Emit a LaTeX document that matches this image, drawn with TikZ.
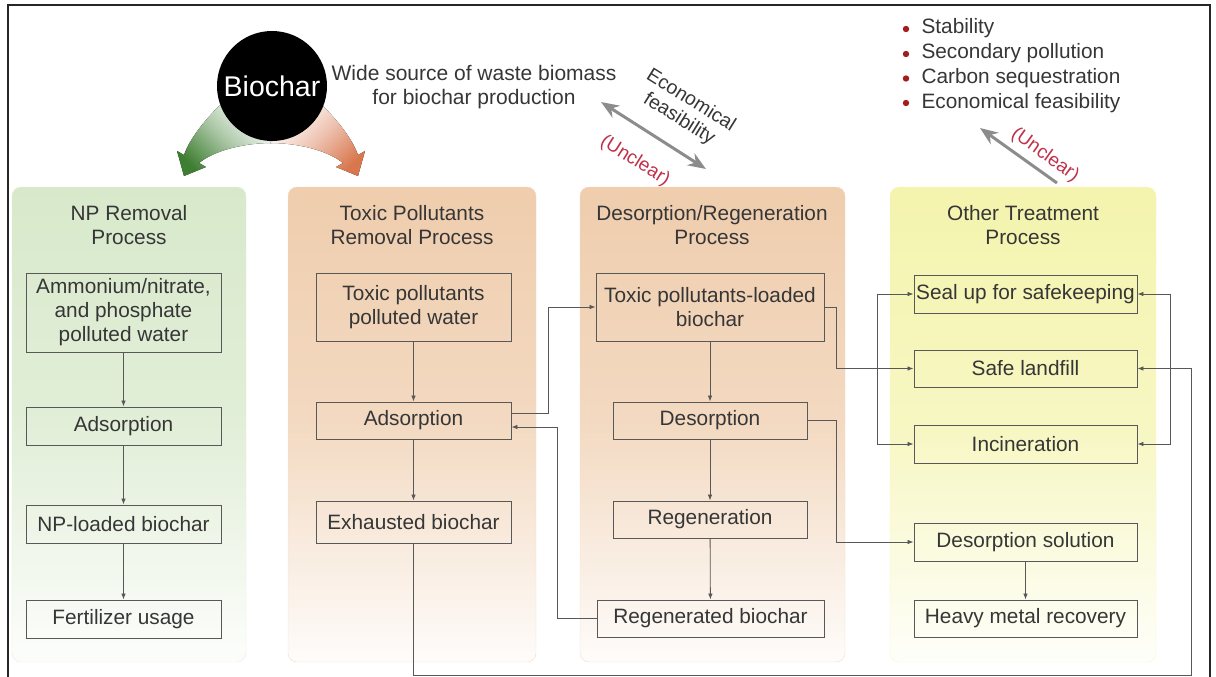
\documentclass[tikz,border=0pt]{standalone}
\usepackage{fontspec}
\setmainfont{Liberation Sans}
\usetikzlibrary{arrows.meta}
\definecolor{txt}{HTML}{363636}
\definecolor{edge}{HTML}{585858}
\definecolor{npgreen}{HTML}{D8E9CB}
\definecolor{tan}{HTML}{EFCDAD}
\definecolor{lemon}{HTML}{F4F4AE}
\definecolor{unclear}{HTML}{C0304A}
\definecolor{bulletred}{HTML}{A51C1C}
\definecolor{arrgray}{HTML}{8C8C8C}
\definecolor{leafdark}{HTML}{3E7E32}
\definecolor{rustdark}{HTML}{D8774E}
\begin{document}
\begin{tikzpicture}[x=1pt,y=-1pt,
  every node/.style={text=txt, font=\fontsize{20.8}{24}\selectfont},
  panel/.style={rounded corners=9pt, draw=#1!70!white, line width=0.4pt,
    top color=#1, bottom color=#1!6!white, middle color=#1!75!white},
  title/.style={align=center},
  pbox/.style={draw=edge, line width=0.85pt, inner sep=0pt, align=center},
  flow/.style={draw=edge, line width=0.8pt, -{Latex[length=6pt,width=4.5pt]}},
  bigarrow/.style={draw=arrgray, line width=3pt},
  tag/.style={text=unclear, font=\fontsize{19}{22}\selectfont},
  item/.style={anchor=west, text height=14pt, text depth=4pt}
]
\useasboundingbox (0,0) rectangle (1216,677);

% outer frame
\draw[line width=1.5pt, black!85] (8,700) -- (8,5) -- (1210,5) -- (1210,700);

% process panels
\path[panel=npgreen] (12,187) rectangle (246,662);
\path[panel=tan] (288,187) rectangle (536,662);
\path[panel=tan] (580,187) rectangle (845,662);
\path[panel=lemon] (890,187) rectangle (1156,662);

% panel titles
\node[title] (t1) at (129,225) {NP Removal\\Process};
\node[title] (t2) at (412,225) {Toxic Pollutants\\Removal Process};
\node[title] (t3) at (712,225) {Desorption/Regeneration\\Process};
\node[title] (t4) at (1023,225) {Other Treatment\\Process};

% curved arrows leaving the biochar disc
\fill[top color=white, bottom color=leafdark, middle color=leafdark!45!white, shading angle=-45]
  (220,105) .. controls (205,120) and (190,138) .. (184,155) -- (177,151) -- (184,176)
  -- (206,167) -- (199,163) .. controls (215,150) and (245,143) .. (272,143) -- cycle;
\begin{scope}[shift={(542,0)}, xscale=-1]
\fill[top color=white, bottom color=rustdark, middle color=rustdark!45!white, shading angle=45]
  (220,105) .. controls (205,120) and (190,138) .. (184,155) -- (177,151) -- (184,176)
  -- (206,167) -- (199,163) .. controls (215,150) and (245,143) .. (272,143) -- cycle;
\end{scope}
\node[circle, fill=black, minimum size=110pt, inner sep=0pt, text=white,
  font=\fontsize{28.5}{30}\selectfont] (bio) at (272,86) {Biochar};

\node[align=center, font=\fontsize{21}{24}\selectfont] (wide) at (474,87) {Wide source of waste biomass\\for biochar production};

% economical feasibility double arrow
\coordinate (e1) at (601,102);
\coordinate (e2) at (706,169);
\draw[bigarrow, {Stealth[length=18pt,width=14pt]}-{Stealth[length=18pt,width=14pt]}] (e1) -- (e2);
\node[align=center, rotate=-32, font=\fontsize{19.5}{22}\selectfont] (econ) at (685,110) {Economical\\feasibility};
\node[tag, rotate=-32] (unc1) at (635,161) {(Unclear)};

% open questions
\foreach \y/\name/\label in {29/b1/Stability, 54/b2/Secondary pollution,
    78.5/b3/Carbon sequestration, 103/b4/Economical feasibility}{
  \fill[bulletred] (906,\y) circle (3.2pt);
  \node[item] (\name) at (918,\y) {\label};
}
\coordinate (q1) at (1057,183);
\coordinate (q2) at (980,128);
\draw[bigarrow, -{Stealth[length=18pt,width=14pt]}] (q1) -- (q2);
\node[tag, rotate=-35.5] (unc2) at (1045,155) {(Unclear)};

% NP removal column
\node[pbox, minimum width=195pt, minimum height=79pt] (amm) at (123.5,312.5) {Ammonium/nitrate,\\and phosphate\\polluted water};
\node[pbox, minimum width=195pt, minimum height=38pt] (ads1) at (123.5,426) {Adsorption};
\node[pbox, minimum width=195pt, minimum height=38pt] (nplb) at (123.5,524) {NP-loaded biochar};
\node[pbox, minimum width=195pt, minimum height=38pt] (fert) at (123.5,619) {Fertilizer usage};

% toxic pollutants column
\node[pbox, minimum width=195pt, minimum height=68pt] (tpw) at (413.5,307) {Toxic pollutants\\polluted water};
\node[pbox, minimum width=195pt, minimum height=37pt] (ads2) at (413.5,420.5) {Adsorption};
\node[pbox, minimum width=195pt, minimum height=42pt] (exh) at (413.5,522) {Exhausted biochar};

% desorption / regeneration column
\node[pbox, minimum width=228pt, minimum height=68pt] (tplb) at (710,307) {Toxic pollutants-loaded\\biochar};
\node[pbox, minimum width=194pt, minimum height=37pt] (des) at (710,420.5) {Desorption};
\node[pbox, minimum width=194pt, minimum height=37pt] (regen) at (710,519.5) {Regeneration};
\node[pbox, minimum width=227pt, minimum height=37pt] (regb) at (710.5,618.5) {Regenerated biochar};

% other treatment column
\node[pbox, minimum width=223pt, minimum height=38pt] (seal) at (1025.5,294) {Seal up for safekeeping};
\node[pbox, minimum width=223pt, minimum height=37pt] (landfill) at (1025.5,368.5) {Safe landfill};
\node[pbox, minimum width=223pt, minimum height=38pt] (incin) at (1025.5,444) {Incineration};
\node[pbox, minimum width=223pt, minimum height=38pt] (dsol) at (1025.5,542) {Desorption solution};
\node[pbox, minimum width=223pt, minimum height=37pt] (hmr) at (1025.5,618.5) {Heavy metal recovery};

% straight flows inside the columns
\draw[flow] (amm) -- (ads1);
\draw[flow] (ads1) -- (nplb);
\draw[flow] (nplb) -- (fert);
\draw[flow] (tpw) -- (ads2);
\draw[flow] (ads2) -- (exh);
\draw[flow] (tplb) -- (des);
\draw[flow] (des) -- (regen);
\draw[flow] (regen) -- (regb);
\draw[flow] (dsol) -- (hmr);

% routed flows between the columns
\draw[flow] ([yshift=7.5pt]ads2.east) -- ++(37,0) |- (tplb.west);
\draw[flow] (regb.west) -- ++(-39,0) |- ([yshift=-6.5pt]ads2.east);
\draw[flow] (tplb.east) -- ++(12,0) |- (landfill.west);
\draw[flow] (des.east) -- ++(29,0) |- (dsol.west);
\coordinate (lb) at (877,368.5);
\draw[flow] (lb) |- (seal.west);
\draw[flow] (lb) |- (incin.west);
\coordinate (floor) at (1191,675);
\draw[flow] (exh.south) |- (floor) |- (landfill.east);
\coordinate (rb) at (1170,368.5);
\draw[flow] (rb) |- (seal.east);
\draw[flow] (rb) |- (incin.east);
\end{tikzpicture}
\end{document}
